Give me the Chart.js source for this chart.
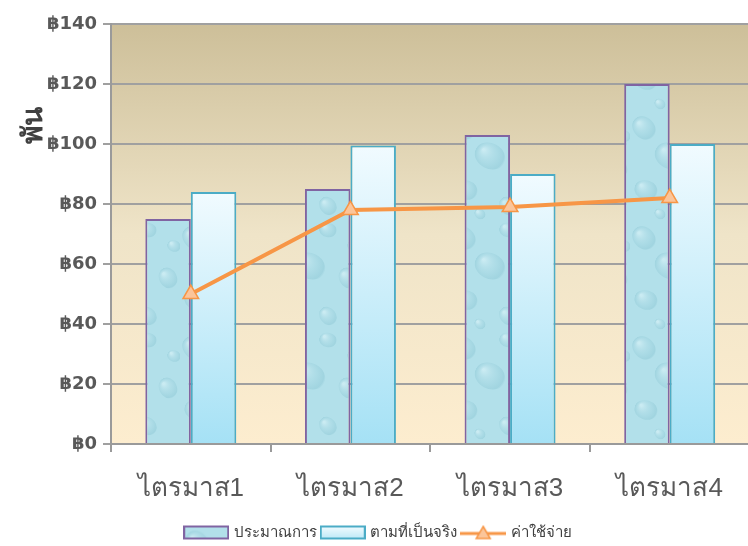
<!DOCTYPE html>
<html>
<head>
<meta charset="utf-8">
<script src="https://cdn.jsdelivr.net/npm/chart.js@4.4.1/dist/chart.umd.min.js"></script>
<style>
  html, body { margin: 0; padding: 0; background: #fff; overflow: hidden; }
  #wrap { width: 760px; height: 546px; }
</style>
</head>
<body>
<div id="wrap"><canvas id="chart" width="760" height="546"></canvas></div>
<script>
// chart data
const categories = ['ไตรมาส1', 'ไตรมาส2', 'ไตรมาส3', 'ไตรมาส4'];
const estimated = [75, 85, 103, 120];
const actual = [84, 99.5, 90, 100];
const expenses = [50, 78, 79, 82];
const seriesNames = ['ประมาณการ', 'ตามที่เป็นจริง', 'ค่าใช้จ่าย'];
const yTicks = [0, 20, 40, 60, 80, 100, 120, 140];

// soft water texture for the first series
function makeDropTexture() {
    const c = document.createElement('canvas');
    c.width = 90; c.height = 110;
    const g = c.getContext('2d');
    g.fillStyle = '#b2e0ea';
    g.fillRect(0, 0, 90, 110);
    const drops = [[14, 18, 13, 0.8], [58, 10, 9, 0.2], [40, 46, 16, 0.5], [78, 58, 11, 1.1], [16, 80, 12, 0.3], [58, 96, 10, 0.9], [84, 26, 7, 0.4], [30, 104, 6, 0.7]];
    drops.forEach(([x, y, r, rot]) => {
        const rg = g.createRadialGradient(x - r * 0.4, y - r * 0.4, 1, x, y, r);
        rg.addColorStop(0, 'rgba(225,246,250,0.5)');
        rg.addColorStop(0.55, 'rgba(160,210,222,0.3)');
        rg.addColorStop(0.9, 'rgba(120,185,200,0.3)');
        rg.addColorStop(1, 'rgba(120,185,200,0)');
        g.fillStyle = rg;
        g.beginPath();
        g.ellipse(x, y, r, r * 0.8, rot, 0, Math.PI * 2);
        g.fill();
    });
    return c;
}
const dropTexture = makeDropTexture();
const dropPattern = document.getElementById('chart').getContext('2d').createPattern(dropTexture, 'repeat');

function actualGradient(ctx) {
    const chart = ctx.chart;
    if (!chart.chartArea || ctx.type !== 'data') return '#d8f2fb';
    const y = chart.scales.y;
    const top = y.getPixelForValue(ctx.raw);
    const bottom = y.getPixelForValue(0);
    const grad = chart.ctx.createLinearGradient(0, top, 0, bottom);
    grad.addColorStop(0, '#f1fbff');
    grad.addColorStop(1, '#a5e1f5');
    return grad;
}

// legend symbols
function legendBox(kind) {
    const c = document.createElement('canvas');
    c.width = 46; c.height = 16;
    const g = c.getContext('2d');
    if (kind === 0) {
        g.fillStyle = g.createPattern(dropTexture, 'repeat');
        g.fillRect(1, 2, 44, 12);
        g.strokeStyle = '#8064a2';
        g.lineWidth = 2;
        g.strokeRect(1, 2, 44, 12);
    } else if (kind === 1) {
        const gr = g.createLinearGradient(0, 2, 0, 14);
        gr.addColorStop(0, '#f1fbff');
        gr.addColorStop(1, '#bfe9f7');
        g.fillStyle = gr;
        g.fillRect(1, 2, 44, 12);
        g.strokeStyle = '#4bacc6';
        g.lineWidth = 2;
        g.strokeRect(1, 2, 44, 12);
    } else {
        g.strokeStyle = '#f79646';
        g.lineWidth = 3;
        g.beginPath(); g.moveTo(0, 9); g.lineTo(46, 9); g.stroke();
        g.fillStyle = '#fbc59a';
        g.strokeStyle = '#f79646';
        g.lineWidth = 1.5;
        g.beginPath(); g.moveTo(23, 2); g.lineTo(30, 14); g.lineTo(16, 14); g.closePath();
        g.fill(); g.stroke();
    }
    return c;
}
const legendSymbols = [legendBox(0), legendBox(1), legendBox(2)];

// plot area background and axis title
const decor = {
    id: 'decor',
    beforeDraw(chart) {
        const { ctx, chartArea: a } = chart;
        const grad = ctx.createLinearGradient(0, a.top, 0, a.bottom);
        grad.addColorStop(0, '#cdbf99');
        grad.addColorStop(0.5, '#efe4c8');
        grad.addColorStop(1, '#fdedcf');
        ctx.save();
        ctx.fillStyle = grad;
        ctx.fillRect(a.left, a.top, a.right - a.left, a.bottom - a.top);
        ctx.restore();
    },
    afterDraw(chart) {
        const ctx = chart.ctx;
        ctx.save();
        ctx.translate(35, 125);
        ctx.rotate(-Math.PI / 2);
        ctx.font = 'bold 28px "DejaVu Sans", sans-serif';
        ctx.fillStyle = '#404040';
        ctx.textAlign = 'center';
        ctx.textBaseline = 'middle';
        ctx.fillText('พัน', 0, 0);
        ctx.restore();
    }
};

new Chart(document.getElementById('chart'), {
    type: 'bar',
    data: {
        labels: categories,
        datasets: [
            {
                label: seriesNames[0],
                data: estimated,
                backgroundColor: dropPattern,
                borderColor: '#8064a2',
                borderWidth: 2,
                categoryPercentage: 0.57,
                barPercentage: 1.0,
                order: 2
            },
            {
                label: seriesNames[1],
                data: actual,
                backgroundColor: actualGradient,
                borderColor: '#4bacc6',
                borderWidth: 2,
                categoryPercentage: 0.57,
                barPercentage: 1.0,
                order: 2
            },
            {
                type: 'line',
                label: seriesNames[2],
                data: expenses,
                borderColor: '#f79646',
                borderWidth: 4,
                pointStyle: 'triangle',
                pointRadius: 9,
                pointBackgroundColor: '#fbc59a',
                pointBorderColor: '#f79646',
                pointBorderWidth: 1.5,
                tension: 0,
                order: 1
            }
        ]
    },
    options: {
        responsive: false,
        animation: false,
        layout: { padding: { top: 24, right: 2, left: 0, bottom: -4 } },
        plugins: {
            tooltip: { enabled: false },
            legend: {
                position: 'bottom',
                labels: {
                    usePointStyle: true,
                    pointStyleWidth: 40,
                    padding: 6,
                    color: '#404040',
                    font: { family: 'sans-serif', size: 15 },
                    generateLabels(chart) {
                        const items = Chart.defaults.plugins.legend.labels.generateLabels(chart);
                        items.forEach(it => { it.pointStyle = legendSymbols[it.datasetIndex]; });
                        return items;
                    },
                    sort: (a, b) => a.datasetIndex - b.datasetIndex
                }
            }
        },
        scales: {
            x: {
                grid: {
                    drawOnChartArea: false,
                    drawTicks: true,
                    tickLength: 8,
                    color: '#9a9a9a',
                    lineWidth: 2
                },
                border: { color: '#9a9a9a', width: 2 },
                ticks: {
                    color: '#595959',
                    padding: 21,
                    font: { family: 'sans-serif', size: 26 }
                },
                afterFit(scale) { scale.height = 75; }
            },
            y: {
                min: 0,
                max: 140,
                afterBuildTicks(scale) { scale.ticks = yTicks.map(v => ({ value: v })); },
                grid: {
                    color: '#a0a0a0',
                    lineWidth: 2,
                    tickLength: 8
                },
                border: { color: '#9a9a9a', width: 2 },
                ticks: {
                    color: '#595959',
                    padding: 6,
                    font: { family: '"DejaVu Sans", sans-serif', size: 18, weight: 'bold' },
                    callback: v => '฿' + v
                },
                afterFit(scale) { scale.width = 111; }
            }
        }
    },
    plugins: [decor]
});
</script>
</body>
</html>
